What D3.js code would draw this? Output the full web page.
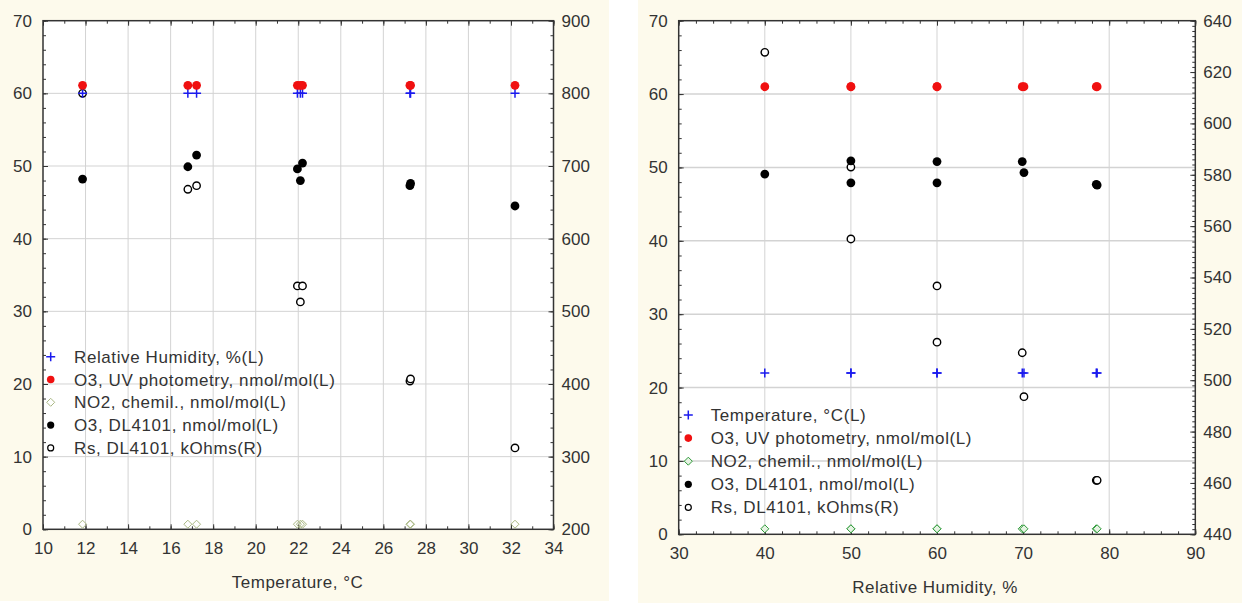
<!DOCTYPE html>
<html><head><meta charset="utf-8">
<script src="https://cdn.jsdelivr.net/npm/d3@7/dist/d3.min.js"></script>
<style>
body{margin:0;background:#fff}
svg{display:block}
text{font-family:"Liberation Sans",Arial,sans-serif;fill:#333}
</style>
</head><body>
<svg id="c" width="1242" height="603"></svg>
<script>
// ---------- Left panel: x = Temperature, °C ----------
const leftTemp   = [11.86, 16.81, 17.22, 21.96, 22.2, 22.1, 27.25, 27.28, 32.19];
const leftRH     = [60, 60, 60, 60, 60, 60, 60, 60, 60];
const leftO3UV   = [61.1, 61.1, 61.1, 61.1, 61.1, 61.1, 61.1, 61.1, 61.1];
const leftNO2    = [0.7, 0.7, 0.7, 0.7, 0.7, 0.7, 0.7, 0.7, 0.7];
const leftO3DL   = [48.2, 49.9, 51.5, 49.6, 50.4, 48.0, 47.3, 47.6, 44.5];
const leftRs     = [800, 668, 673, 535, 535, 513, 404, 407, 312];

// ---------- Right panel: x = Relative Humidity, % ----------
const rightRH    = [40, 50, 50, 60, 60, 69.9, 70.1, 78.5, 78.6];
const rightTemp  = [22, 22, 22, 22, 22, 22, 22, 22, 22];
const rightO3UV  = [61.0, 61.0, 61.0, 61.0, 61.0, 61.0, 61.0, 61.0, 61.0];
const rightNO2   = [0.75, 0.75, 0.75, 0.75, 0.75, 0.75, 0.75, 0.75, 0.75];
const rightO3DL  = [49.1, 50.9, 47.9, 50.8, 47.9, 50.8, 49.3, 47.7, 47.6];
const rightRs    = [627.7, 583, 555, 536.7, 514.8, 510.7, 493.6, 461, 461];

// ---------- Tick labels ----------
const leftXTicks   = [10, 12, 14, 16, 18, 20, 22, 24, 26, 28, 30, 32, 34];
const leftYTicks   = [0, 10, 20, 30, 40, 50, 60, 70];
const leftY2Ticks  = [200, 300, 400, 500, 600, 700, 800, 900];
const rightXTicks  = [30, 40, 50, 60, 70, 80, 90];
const rightYTicks  = [0, 10, 20, 30, 40, 50, 60, 70];
const rightY2Ticks = [440, 460, 480, 500, 520, 540, 560, 580, 600, 620, 640];

// ---------- Legend / titles ----------
const leftLegend  = ["Relative Humidity, %(L)", "O3, UV photometry, nmol/mol(L)", "NO2, chemil., nmol/mol(L)", "O3, DL4101, nmol/mol(L)", "Rs, DL4101, kOhms(R)"];
const rightLegend = ["Temperature, °C(L)", "O3, UV photometry, nmol/mol(L)", "NO2, chemil., nmol/mol(L)", "O3, DL4101, nmol/mol(L)", "Rs, DL4101, kOhms(R)"];
const leftTitle  = "Temperature, °C";
const rightTitle = "Relative Humidity, %";

const svg = d3.select("#c");

function marker(g, type, cx, cy, color, extra) {
  if (type === "plus") {
    g.append("path").attr("d", `M${cx-4.5},${cy}H${cx+4.5}M${cx},${cy-4.5}V${cy+4.5}`)
      .attr("stroke", color).attr("stroke-width", 1.5).attr("fill", "none");
  } else if (type === "dot") {
    g.append("circle").attr("cx", cx).attr("cy", cy).attr("r", 4.4).attr("fill", color);
  } else if (type === "circle") {
    g.append("circle").attr("cx", cx).attr("cy", cy).attr("r", 3.7)
      .attr("fill", "#fff").attr("stroke", color).attr("stroke-width", 1.4);
  } else if (type === "diamond") {
    g.append("path").attr("d", `M${cx},${cy-4}L${cx+4},${cy}L${cx},${cy+4}L${cx-4},${cy}Z`)
      .attr("fill", extra || "none").attr("stroke", color).attr("stroke-width", 1);
  }
}

function panel(cfg) {
  const g = svg.append("g");
  g.append("rect").attr("x", cfg.bg[0]).attr("y", cfg.bg[1]).attr("width", cfg.bg[2]).attr("height", cfg.bg[3]).attr("fill", "#fdfaec");
  g.append("rect").attr("x", cfg.l).attr("y", cfg.t).attr("width", cfg.r - cfg.l).attr("height", cfg.b - cfg.t).attr("fill", "#fff");

  const x = d3.scaleLinear().domain(cfg.xDom).range([cfg.l, cfg.r]);
  const y = d3.scaleLinear().domain(cfg.yDom).range([cfg.b, cfg.t]);
  const y2 = d3.scaleLinear().domain(cfg.y2Dom).range([cfg.b, cfg.t]);

  // grid
  const grid = g.append("g").attr("stroke", "#d3d3d3").attr("fill", "none");
  cfg.xTicks.slice(1, -1).forEach(v => grid.append("line").attr("x1", x(v)).attr("x2", x(v)).attr("y1", cfg.t).attr("y2", cfg.b).attr("stroke-width", 1));
  cfg.yTicks.slice(1, -1).forEach(v => grid.append("line").attr("x1", cfg.l).attr("x2", cfg.r).attr("y1", y(v)).attr("y2", y(v)).attr("stroke-width", cfg.hgw));

  // axes
  const xMinor = d3.range(cfg.xDom[0], cfg.xDom[1] + 1e-9, cfg.xMinorStep);
  const yMinor = d3.range(cfg.yDom[0], cfg.yDom[1] + 1e-9, 2);
  const y2Minor = d3.range(cfg.y2Dom[0], cfg.y2Dom[1] + 1e-9, cfg.y2MinorStep);
  const axes = [
    [d3.axisBottom(x).tickValues(xMinor).tickSize(-3).tickFormat(""), `translate(0,${cfg.b})`],
    [d3.axisBottom(x).tickValues(cfg.xTicks).tickSizeInner(-5).tickSizeOuter(0).tickPadding(13), `translate(0,${cfg.b})`],
    [d3.axisTop(x).tickValues(xMinor).tickSize(-3).tickFormat(""), `translate(0,${cfg.t})`],
    [d3.axisTop(x).tickValues(cfg.xTicks).tickSize(-5).tickFormat(""), `translate(0,${cfg.t})`],
    [d3.axisLeft(y).tickValues(yMinor).tickSize(-3).tickFormat(""), `translate(${cfg.l},0)`],
    [d3.axisLeft(y).tickValues(cfg.yTicks).tickSizeInner(-5).tickSizeOuter(0).tickPadding(11), `translate(${cfg.l},0)`],
    [d3.axisRight(y2).tickValues(y2Minor).tickSize(-3).tickFormat(""), `translate(${cfg.r},0)`],
    [d3.axisRight(y2).tickValues(cfg.y2Ticks).tickSizeInner(-5).tickSizeOuter(0).tickPadding(8), `translate(${cfg.r},0)`]
  ];
  axes.forEach(([ax, tr]) => {
    const a = g.append("g").attr("transform", tr).call(ax);
    a.select(".domain").remove();
    a.selectAll("line").attr("stroke", "#333");
    a.selectAll("text").attr("font-size", 17).attr("fill", "#2e2e2e")
      .attr("font-family", "Liberation Sans, Arial, sans-serif");
  });

  // frame
  g.append("rect").attr("x", cfg.l).attr("y", cfg.t).attr("width", cfg.r - cfg.l).attr("height", cfg.b - cfg.t)
    .attr("fill", "none").attr("stroke", "#333").attr("stroke-width", 1.5);

  // markers
  const m = g.append("g");
  cfg.xs.forEach((xv, i) => marker(m, "diamond", x(xv), y(cfg.no2[i]), cfg.no2Color, cfg.no2Fill));
  cfg.xs.forEach((xv, i) => marker(m, "circle", x(xv), y2(cfg.rs[i]), "#000"));
  cfg.xs.forEach((xv, i) => marker(m, "dot", x(xv), y(cfg.o3dl[i]), "#000"));
  cfg.xs.forEach((xv, i) => marker(m, "plus", x(xv), y(cfg.first[i]), "#1a1aee"));
  cfg.xs.forEach((xv, i) => marker(m, "dot", x(xv), y(cfg.o3uv[i]), "#f01010"));

  // legend
  const types = [["plus", "#1a1aee"], ["dot", "#f01010"], ["diamond", cfg.no2Color], ["dot", "#000"], ["circle", "#000"]];
  cfg.legend.forEach((txt, i) => {
    const cy = cfg.legY + i * cfg.legStep;
    if (i === 3) {
      m.append("circle").attr("cx", cfg.legMx).attr("cy", cy).attr("r", 3.6).attr("fill", "#000");
    } else if (i === 4) {
      m.append("circle").attr("cx", cfg.legMx).attr("cy", cy).attr("r", 3).attr("fill", "#fff").attr("stroke", "#000").attr("stroke-width", 1.2);
    } else if (i === 1) {
      m.append("circle").attr("cx", cfg.legMx).attr("cy", cy).attr("r", 3.8).attr("fill", "#f01010");
    } else {
      marker(m, types[i][0], cfg.legMx, cy, types[i][1], cfg.no2Fill);
    }
    m.append("text").attr("x", cfg.legTx).attr("y", cy + 6).attr("font-size", 17)
      .attr("letter-spacing", 0.6).attr("fill", "#3a3a3a").text(txt);
  });

  // title
  g.append("text").attr("x", cfg.titleX).attr("y", cfg.titleY).attr("text-anchor", "middle")
    .attr("font-size", 17).attr("letter-spacing", 0.5).attr("fill", "#333").text(cfg.title);
}

panel({
  bg: [0, 0, 609, 601], l: 43, r: 553.5, t: 20.7, b: 529.3,
  xDom: [10, 34], yDom: [0, 70], y2Dom: [200, 900], xMinorStep: 1, y2MinorStep: 20, hgw: 1,
  xTicks: leftXTicks, yTicks: leftYTicks, y2Ticks: leftY2Ticks,
  xs: leftTemp, first: leftRH, o3uv: leftO3UV, no2: leftNO2, o3dl: leftO3DL, rs: leftRs,
  no2Color: "#aab884", no2Fill: "none",
  legend: leftLegend, legMx: 50.7, legTx: 74, legY: 356.7, legStep: 22.8,
  title: leftTitle, titleX: 297.5, titleY: 588
});

panel({
  bg: [638, 0, 604, 603], l: 678.7, r: 1195.3, t: 20.7, b: 534.3,
  xDom: [30, 90], yDom: [0, 70], y2Dom: [440, 640], xMinorStep: 2, y2MinorStep: 2, hgw: 1.6,
  xTicks: rightXTicks, yTicks: rightYTicks, y2Ticks: rightY2Ticks,
  xs: rightRH, first: rightTemp, o3uv: rightO3UV, no2: rightNO2, o3dl: rightO3DL, rs: rightRs,
  no2Color: "#2f9a3a", no2Fill: "#e6f3e3",
  legend: rightLegend, legMx: 688.3, legTx: 710.7, legY: 415, legStep: 23.1,
  title: rightTitle, titleX: 935, titleY: 593
});
</script>
</body></html>
